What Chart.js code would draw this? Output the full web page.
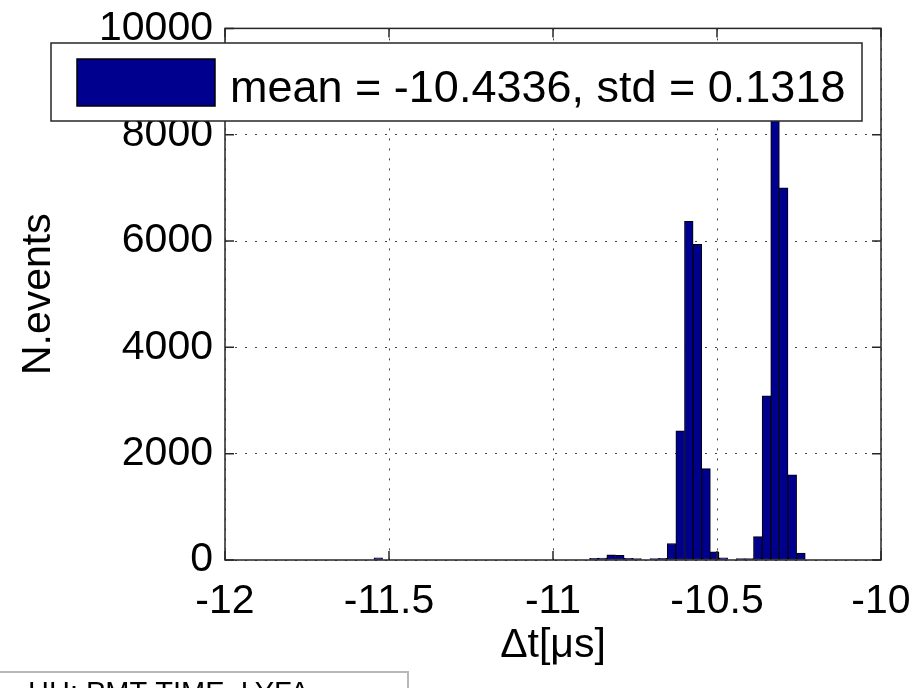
<!DOCTYPE html>
<html>
<head>
<meta charset="utf-8">
<script src="https://cdn.jsdelivr.net/npm/chart.js@4.4.1/dist/chart.umd.min.js"></script>
<style>
  html, body { margin: 0; padding: 0; background: #fff; }
  #wrap { width: 922px; height: 688px; position: relative; }
</style>
</head>
<body>
<div id="wrap"><canvas id="histChart" width="922" height="688"></canvas></div>
<script>
// histogram bins (centre in us) and counts
var binCenters = [-11.5328, -10.8753, -10.8490, -10.8227, -10.7964, -10.7701, -10.7438, -10.7175,
                  -10.6912, -10.6649, -10.6386, -10.6123, -10.5860, -10.5597, -10.5334, -10.5071,
                  -10.4808, -10.4545, -10.4282, -10.4019, -10.3756, -10.3493, -10.3230, -10.2967,
                  -10.2704, -10.2441];
var binCounts  = [40, 30, 35, 95, 90, 30, 25, 0,
                  25, 30, 310, 2430, 6370, 5940, 1720, 155,
                  40, 0, 25, 25, 440, 3090, 8600, 7000,
                  1600, 130];
var xTicks = [-12, -11.5, -11, -10.5, -10];
var yTicks = [0, 2000, 4000, 6000, 8000, 10000];
var legendText = 'mean = -10.4336, std = 0.1318';
var xTitle = 'Δt[μs]';
var yTitle = 'N.events';
var footText = 'HH: PMT TIME, LYFA';

var barColor = 'rgb(0,0,143)';
var frameColor = '#262626';
var fontFam = '"Liberation Sans", Arial, sans-serif';

// matlab style box, inward ticks, legend inside the axes and the cut textbox at the bottom
var matlabFrame = {
  id: 'matlabFrame',
  afterDraw: function(chart) {
    var ctx = chart.ctx;
    var a = chart.chartArea;
    var xs = chart.scales.x, ys = chart.scales.y;
    ctx.save();
    ctx.strokeStyle = frameColor;
    ctx.lineWidth = 1.5;
    ctx.strokeRect(a.left, a.top, a.right - a.left, a.bottom - a.top);
    ctx.beginPath();
    xTicks.forEach(function(v) {
      var px = xs.getPixelForValue(v);
      ctx.moveTo(px, a.bottom); ctx.lineTo(px, a.bottom - 9);
      ctx.moveTo(px, a.top); ctx.lineTo(px, a.top + 9);
    });
    yTicks.forEach(function(v) {
      var py = ys.getPixelForValue(v);
      ctx.moveTo(a.left, py); ctx.lineTo(a.left + 9, py);
      ctx.moveTo(a.right, py); ctx.lineTo(a.right - 9, py);
    });
    ctx.stroke();

    // legend
    ctx.fillStyle = '#fff';
    ctx.fillRect(51, 43, 811, 78);
    ctx.strokeRect(51, 43, 811, 78);
    ctx.fillStyle = barColor;
    ctx.fillRect(77, 59, 138, 47);
    ctx.strokeStyle = '#000';
    ctx.lineWidth = 1.5;
    ctx.strokeRect(77, 59, 138, 47);
    ctx.fillStyle = '#000';
    ctx.font = '45px ' + fontFam;
    ctx.textBaseline = 'alphabetic';
    ctx.fillText(chart.data.datasets[0].label, 230, 102);

    // textbox cut off by the image border
    ctx.strokeStyle = '#b8b8b8';
    ctx.lineWidth = 2;
    ctx.beginPath();
    ctx.moveTo(0, 672); ctx.lineTo(408, 672); ctx.lineTo(408, 690);
    ctx.stroke();
    ctx.fillStyle = '#000';
    ctx.font = '29px ' + fontFam;
    ctx.fillText(footText, 28, 702);
    ctx.restore();
  }
};

var ctx = document.getElementById('histChart').getContext('2d');
var chart = new Chart(ctx, {
  type: 'bar',
  data: {
    datasets: [{
      label: legendText,
      data: binCenters.map(function(c, i) { return { x: c, y: binCounts[i] }; }),
      backgroundColor: barColor,
      borderColor: '#000',
      borderWidth: 1,
      borderSkipped: false,
      barPercentage: 1,
      categoryPercentage: 1
    }]
  },
  options: {
    responsive: false,
    animation: false,
    layout: { padding: { left: 0, right: 41, top: 20, bottom: 0 } },
    plugins: { legend: { display: false }, tooltip: { enabled: false } },
    scales: {
      x: {
        type: 'linear',
        min: -12, max: -10,
        offset: false,
        afterBuildTicks: function(axis) { axis.ticks = xTicks.map(function(v) { return { value: v }; }); },
        afterFit: function(s) { s.height = 128; s.paddingLeft = 0; s.paddingRight = 0; },
        ticks: {
          color: '#000',
          padding: 17,
          maxRotation: 0,
          font: { family: fontFam, size: 41 },
          callback: function(v) { return String(v); }
        },
        grid: { color: '#444', lineWidth: 1, drawTicks: false, offset: false },
        border: { display: false, dash: [2, 8] },
        title: {
          display: true, text: xTitle, color: '#000',
          font: { family: fontFam, size: 41 },
          padding: { top: 0, bottom: 18 }
        }
      },
      y: {
        min: 0, max: 10000,
        afterBuildTicks: function(axis) { axis.ticks = yTicks.map(function(v) { return { value: v }; }); },
        afterFit: function(s) { s.width = 225; },
        ticks: {
          color: '#000',
          padding: 12,
          font: { family: fontFam, size: 41, lineHeight: 0.8 },
          callback: function(v) { return String(v); }
        },
        grid: { color: '#444', lineWidth: 1, drawTicks: false },
        border: { display: false, dash: [2, 8] },
        title: {
          display: true, text: yTitle, color: '#000',
          font: { family: fontFam, size: 41 },
          padding: { top: 14, bottom: 0 }
        }
      }
    }
  },
  plugins: [matlabFrame]
});
</script>
</body>
</html>
